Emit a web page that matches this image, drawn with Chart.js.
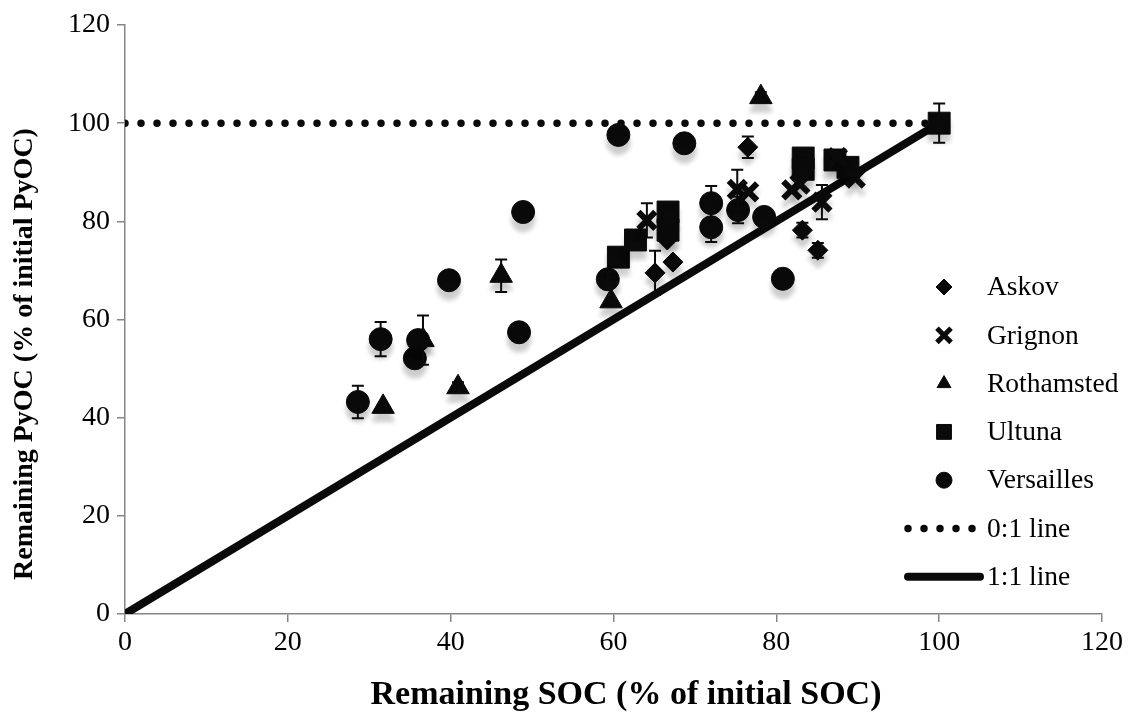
<!DOCTYPE html>
<html>
<head>
  <title>Remaining PyOC vs remaining SOC</title>
  <script src="https://cdn.jsdelivr.net/npm/chart.js"></script>
  <style>
    html, body { margin: 0; padding: 0; background: #fff; }
  </style>
</head>
<body>
<canvas id="myChart" width="1128" height="713"></canvas>
<script>
  // Remaining SOC (x), remaining PyOC (y), error bar half size (0 = none)
  const askovSOC = [65.1, 67.3, 66.6, 76.5, 83.2, 85.1];
  const askovPyOC = [69.5, 71.7, 76.2, 95.1, 78.2, 74.1];
  const askovErr = [4.5, 0, 0, 2.2, 1.5, 1.5];

  const grignonSOC = [64.1, 75.2, 76.6, 81.9, 82.9, 85.6, 87.5, 89.7];
  const grignonPyOC = [80.2, 86.5, 86.0, 86.4, 87.6, 83.9, 93.0, 88.8];
  const grignonErr = [3.5, 4, 0, 0, 0, 3.5, 0, 0];

  const rothamstedSOC = [31.7, 36.6, 40.9, 46.2, 59.7, 78.1];
  const rothamstedPyOC = [42.2, 55.8, 46.2, 68.9, 63.7, 105.3];
  const rothamstedErr = [0, 5, 1, 3.3, 0, 1];

  const ultunaSOC = [60.6, 62.7, 66.7, 66.7, 83.3, 83.3, 87.2, 88.8, 100];
  const ultunaPyOC = [72.7, 76.2, 81.9, 78.2, 92.9, 90.6, 92.5, 91.0, 100];
  const ultunaErr = [0, 0, 0, 0, 0, 0, 0, 0, 4];

  const versaillesSOC = [28.6, 31.4, 35.6, 36.0, 39.8, 48.4, 48.9, 59.3, 60.6, 68.7, 72.0, 72.0, 75.3, 78.5, 80.8];
  const versaillesPyOC = [43.2, 56.0, 52.1, 55.8, 68.0, 57.4, 81.9, 68.2, 97.6, 95.9, 83.7, 78.8, 82.3, 80.9, 68.3];
  const versaillesErr = [3.3, 3.5, 0, 0, 0, 0, 0, 1.5, 1.5, 0, 3.5, 3, 2.7, 0, 0];

  const zeroOneX = [0, 100];
  const zeroOneY = [100, 100];
  const oneOneX = [0, 100];
  const oneOneY = [0, 100];

  const xTitle = 'Remaining SOC (% of initial SOC)';
  const yTitle = 'Remaining PyOC (% of initial PyOC)';

  const FONT = '"Liberation Serif", "Times New Roman", serif';
  const INK = '#0a0a0a';
  const AXIS = '#868686';

  function pts(xs, ys) {
    return xs.map((x, i) => ({ x: x, y: ys[i] }));
  }

  // soft grey shadow below the markers
  const shadowPlugin = {
    id: 'markerShadow',
    beforeDatasetDraw(chart, args) {
      if (chart.data.datasets[args.index].showLine) return;
      const ctx = chart.ctx;
      ctx.save();
      ctx.shadowColor = 'rgba(0,0,0,0.2)';
      ctx.shadowBlur = 5;
      ctx.shadowOffsetY = 8;
    },
    afterDatasetDraw(chart, args) {
      if (chart.data.datasets[args.index].showLine) return;
      chart.ctx.restore();
    }
  };

  const errorBarPlugin = {
    id: 'errorBars',
    afterDatasetsDraw(chart) {
      const ctx = chart.ctx;
      const xs = chart.scales.x, ys = chart.scales.y;
      ctx.save();
      ctx.strokeStyle = INK;
      ctx.lineWidth = 2;
      chart.data.datasets.forEach(ds => {
        if (!ds.errors) return;
        ds.data.forEach((p, i) => {
          const e = ds.errors[i];
          if (!e) return;
          const px = xs.getPixelForValue(p.x);
          const top = ys.getPixelForValue(p.y + e);
          const bot = ys.getPixelForValue(p.y - e);
          ctx.beginPath();
          ctx.moveTo(px, top); ctx.lineTo(px, bot);
          ctx.moveTo(px - 6, top); ctx.lineTo(px + 6, top);
          ctx.moveTo(px - 6, bot); ctx.lineTo(px + 6, bot);
          ctx.stroke();
        });
      });
      ctx.restore();
    }
  };

  // axis titles sit a little off the plot centre, as in the original
  const titlePlugin = {
    id: 'axisTitles',
    afterDraw(chart) {
      const ctx = chart.ctx;
      ctx.save();
      ctx.fillStyle = '#000';
      ctx.textAlign = 'center';
      ctx.textBaseline = 'middle';
      ctx.font = 'bold 34px ' + FONT;
      ctx.fillText(xTitle, 626, 695);
      ctx.translate(25, 354);
      ctx.rotate(-Math.PI / 2);
      ctx.font = 'bold 28px ' + FONT;
      ctx.fillText(yTitle, 0, 0);
      ctx.restore();
    }
  };

  const legendPlugin = {
    id: 'sideLegend',
    afterDraw(chart) {
      const ctx = chart.ctx;
      const rowTop = 287, rowGap = 48.3;
      const markerX = 944, textX = 987;
      const sizes = [8, 10, 8, 10.5, 8];
      ctx.save();
      ctx.font = '27.5px ' + FONT;
      ctx.textBaseline = 'middle';
      ctx.textAlign = 'left';
      chart.data.datasets.forEach((ds, i) => {
        const y = rowTop + i * rowGap;
        ctx.fillStyle = INK;
        ctx.strokeStyle = INK;
        if (ds.showLine) {
          ctx.save();
          ctx.lineWidth = ds.borderWidth;
          ctx.lineCap = 'round';
          ctx.setLineDash(ds.borderDash || []);
          ctx.beginPath();
          ctx.moveTo(908, y);
          ctx.lineTo(980, y);
          ctx.stroke();
          ctx.restore();
        } else {
          ctx.lineWidth = ds.pointStyle === 'crossRot' ? 5 : 1;
          Chart.helpers.drawPoint(ctx, {
            pointStyle: ds.pointStyle, radius: sizes[i], rotation: 0, borderWidth: ctx.lineWidth
          }, markerX, y);
        }
        ctx.fillStyle = '#000';
        ctx.fillText(ds.label, textX, y + 1);
      });
      ctx.restore();
    }
  };

  function series(label, xs, ys, errs, style, radius, bw) {
    return {
      label: label,
      data: pts(xs, ys),
      errors: errs,
      pointStyle: style,
      pointRadius: radius,
      pointBorderWidth: bw,
      borderWidth: bw,
      backgroundColor: INK,
      borderColor: INK,
      showLine: false,
      order: 1
    };
  }

  const ctx = document.getElementById('myChart').getContext('2d');

  new Chart(ctx, {
    type: 'scatter',
    data: {
      datasets: [
        series('Askov', askovSOC, askovPyOC, askovErr, 'rectRot', 10, 1),
        series('Grignon', grignonSOC, grignonPyOC, grignonErr, 'crossRot', 12, 6),
        series('Rothamsted', rothamstedSOC, rothamstedPyOC, rothamstedErr, 'triangle', 13, 1),
        series('Ultuna', ultunaSOC, ultunaPyOC, ultunaErr, 'rect', 15.5, 1),
        series('Versailles', versaillesSOC, versaillesPyOC, versaillesErr, 'circle', 11.5, 1),
        {
          label: '0:1 line',
          data: pts(zeroOneX, zeroOneY),
          showLine: true,
          borderColor: INK,
          borderWidth: 7.5,
          borderDash: [0, 16],
          borderCapStyle: 'round',
          pointRadius: 0,
          order: 5
        },
        {
          label: '1:1 line',
          data: pts(oneOneX, oneOneY),
          showLine: true,
          borderColor: INK,
          borderWidth: 8,
          borderCapStyle: 'round',
          pointRadius: 0,
          order: 4
        }
      ]
    },
    options: {
      responsive: false,
      animation: false,
      layout: { padding: { left: 0, top: 25, right: 26, bottom: 0 } },
      plugins: {
        legend: { display: false },
        tooltip: { enabled: false }
      },
      scales: {
        x: {
          type: 'linear',
          min: 0,
          max: 120,
          ticks: { stepSize: 20, color: '#000', padding: 4, font: { family: FONT, size: 28 } },
          grid: { drawOnChartArea: false, drawTicks: true, tickLength: 8, color: AXIS, lineWidth: 1.5 },
          border: { color: AXIS, width: 1.5 },
          afterFit: scale => { scale.height = 99; }
        },
        y: {
          type: 'linear',
          min: 0,
          max: 120,
          ticks: { stepSize: 20, color: '#000', padding: 7, font: { family: FONT, size: 28 } },
          grid: { drawOnChartArea: false, drawTicks: true, tickLength: 8, color: AXIS, lineWidth: 1.5 },
          border: { color: AXIS, width: 1.5 },
          afterFit: scale => { scale.width = 125; }
        }
      }
    },
    plugins: [shadowPlugin, errorBarPlugin, titlePlugin, legendPlugin]
  });
</script>
</body>
</html>
